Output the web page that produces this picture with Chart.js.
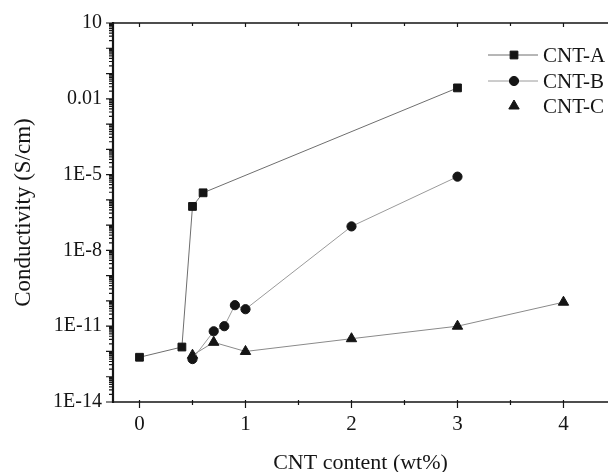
<!DOCTYPE html>
<html>
<head>
<meta charset="utf-8">
<script src="https://cdn.jsdelivr.net/npm/chart.js@4.4.1/dist/chart.umd.min.js"></script>
<style>
  html, body { margin: 0; padding: 0; background: #fff; }
  #wrap { width: 615px; height: 472px; }
</style>
</head>
<body>
<div id="wrap"><canvas id="cond"></canvas></div>
<script>
// values (conductivity, S/cm)
const aContent = [0, 0.4, 0.5, 0.6, 3];
const aCond = [5.9e-13, 1.5e-12, 5.5e-7, 1.9e-6, 0.027];

const bContent = [0.5, 0.7, 0.8, 0.9, 1, 2, 3];
const bCond = [5e-13, 6.3e-12, 1e-11, 6.8e-11, 4.7e-11, 8.9e-8, 8.3e-6];

const cContent = [0.5, 0.7, 1, 2, 3, 4];
const cCond = [7.1e-13, 2.3e-12, 1e-12, 3.2e-12, 1e-11, 8.9e-11];

const seriesNames = ["CNT-A", "CNT-B", "CNT-C"];
const xTicks = [0, 1, 2, 3, 4];
const yTickValues = [1e-14, 1e-11, 1e-8, 1e-5, 0.01, 10];
const yTickLabels = ["1E-14", "1E-11", "1E-8", "1E-5", "0.01", "10"];

const serif = "'Liberation Serif', 'DejaVu Serif', serif";
const ink = "#151515";

const toPoints = (xs, ys) => xs.map((x, i) => ({ x: x, y: ys[i] }));

// axes frame + tick marks, drawn from the chart's own scales
const frame = {
  id: "frame",
  afterDraw(chart) {
    const { ctx, chartArea: a, scales } = chart;
    const xs = scales.x, ys = scales.y;
    ctx.save();
    ctx.strokeStyle = ink;
    ctx.lineWidth = 1.5;
    ctx.beginPath();
    ctx.moveTo(a.left, a.top); ctx.lineTo(a.right, a.top);
    ctx.moveTo(a.left, a.bottom); ctx.lineTo(a.right, a.bottom);
    ctx.stroke();
    ctx.lineWidth = 2.2;
    ctx.beginPath();
    ctx.moveTo(a.left, a.top - 1); ctx.lineTo(a.left, a.bottom + 1);
    ctx.stroke();

    // y ticks: decades long, 2..9 short
    ctx.lineWidth = 1.2;
    ctx.beginPath();
    for (let e = -14; e <= 1; e++) {
      const py = ys.getPixelForValue(Math.pow(10, e));
      ctx.moveTo(a.left - 7, py); ctx.lineTo(a.left, py);
      if (e < 1) {
        for (let m = 2; m <= 9; m++) {
          const q = ys.getPixelForValue(m * Math.pow(10, e));
          ctx.moveTo(a.left - 4, q); ctx.lineTo(a.left, q);
        }
      }
    }
    ctx.stroke();

    // x ticks: integers long, halves short; same on top edge
    ctx.beginPath();
    for (let v = 0; v <= 4.5; v += 0.5) {
      const px = xs.getPixelForValue(v);
      if (px > a.right) continue;
      const major = Number.isInteger(v);
      ctx.moveTo(px, a.bottom - 2); ctx.lineTo(px, a.bottom + (major ? 6 : 3));
      ctx.moveTo(px, a.top); ctx.lineTo(px, a.top + (major ? 4 : 3));
    }
    ctx.stroke();
    ctx.restore();
  }
};

// legend: line through marker, as in the figure
const legendBox = {
  id: "legendBox",
  afterDraw(chart) {
    const { ctx } = chart;
    const rows = [55, 81, 106];
    ctx.save();
    chart.data.datasets.forEach((ds, i) => {
      const y = rows[i];
      if (i < 2) {
        ctx.strokeStyle = ds.borderColor;
        ctx.lineWidth = 1;
        ctx.beginPath();
        ctx.moveTo(488, y); ctx.lineTo(538, y);
        ctx.stroke();
      }
      ctx.fillStyle = ink;
      ctx.strokeStyle = ink;
      Chart.helpers.drawPoint(ctx, {
        pointStyle: ds.pointStyle,
        radius: ds.pointRadius,
        borderWidth: 1,
        rotation: 0
      }, 514, y);
      ctx.fillStyle = ink;
      ctx.font = "21px " + serif;
      ctx.textBaseline = "middle";
      ctx.textAlign = "left";
      ctx.fillText(seriesNames[i], 543, y + 1);
    });
    ctx.restore();
  }
};

const line = (label, pts, style, r, color) => ({
  label: label,
  data: pts,
  showLine: true,
  borderColor: color,
  borderWidth: 1,
  pointStyle: style,
  pointRadius: r,
  pointHoverRadius: r,
  pointBackgroundColor: ink,
  pointBorderColor: ink,
  pointBorderWidth: 1,
  tension: 0
});

new Chart(document.getElementById("cond"), {
  type: "scatter",
  data: {
    datasets: [
      line(seriesNames[0], toPoints(aContent, aCond), "rect", 5.5, "#6e6e6e"),
      line(seriesNames[1], toPoints(bContent, bCond), "circle", 4.6, "#9a9a9a"),
      line(seriesNames[2], toPoints(cContent, cCond), "triangle", 6, "#8a8a8a")
    ]
  },
  options: {
    responsive: true,
    maintainAspectRatio: false,
    animation: false,
    layout: { padding: { top: 22, right: 0, left: 0, bottom: 0 } },
    plugins: {
      legend: { display: false },
      tooltip: { enabled: false }
    },
    scales: {
      x: {
        type: "linear",
        min: -0.25,
        max: 4.42,
        border: { display: false },
        grid: { display: false, drawTicks: false },
        afterBuildTicks(s) { s.ticks = xTicks.map(v => ({ value: v })); },
        afterFit(s) { s.height = 70; },
        ticks: {
          padding: 10,
          color: ink,
          font: { family: serif, size: 21 },
          callback: v => String(v)
        },
        title: {
          display: true,
          text: "CNT content (wt%)",
          color: ink,
          font: { family: serif, size: 22 },
          padding: { top: 0, bottom: -4 }
        }
      },
      y: {
        type: "logarithmic",
        min: 1e-14,
        max: 10,
        border: { display: false },
        grid: { display: false, drawTicks: false },
        afterBuildTicks(s) { s.ticks = yTickValues.map(v => ({ value: v })); },
        afterFit(s) { s.width = 113; },
        ticks: {
          padding: 11,
          color: ink,
          font: { family: serif, size: 20 },
          callback: v => {
            const i = yTickValues.findIndex(t => Math.abs(Math.log10(t) - Math.log10(v)) < 1e-6);
            return i >= 0 ? yTickLabels[i] : "";
          }
        },
        title: {
          display: true,
          text: "Conductivity (S/cm)",
          color: ink,
          font: { family: serif, size: 23 },
          padding: { top: 10, bottom: 4 }
        }
      }
    }
  },
  plugins: [frame, legendBox]
});
</script>
</body>
</html>
